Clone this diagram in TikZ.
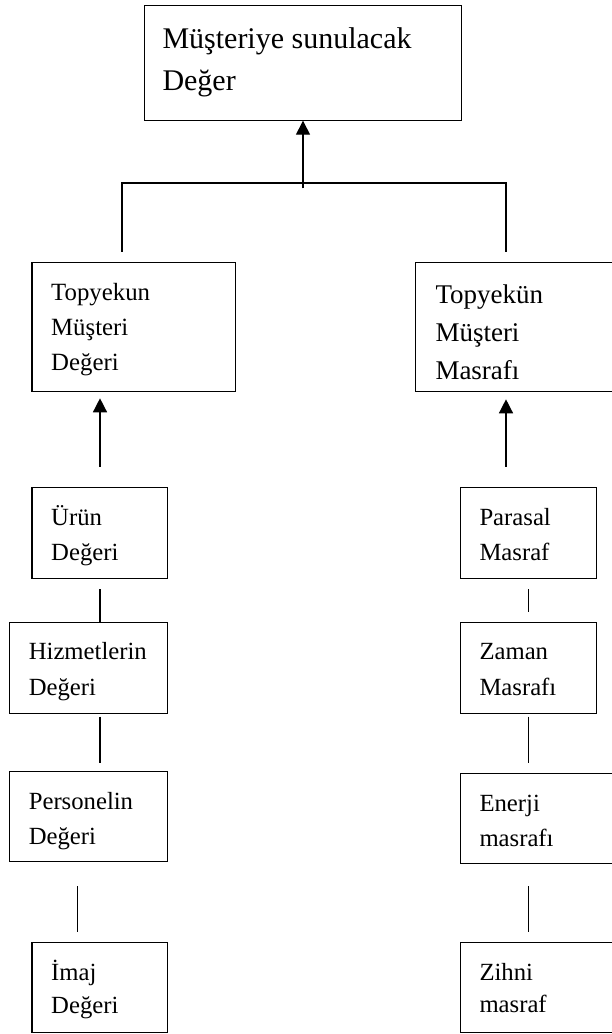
\documentclass[tikz,border=0pt]{standalone}
\usepackage{fontspec}
\setmainfont{Liberation Serif}
\usetikzlibrary{arrows.meta}
\newcommand\mylines[2]{\vtop{\baselineskip=#1pt\relax\lineskiplimit=-1000pt\lineskip=0pt\relax #2}}
\begin{document}
\begin{tikzpicture}[x=1pt,y=-1pt,
  boxnode/.style={draw, line width=1.1pt, inner sep=0pt, outer sep=0pt, anchor=north west},
  txt/.style={anchor=base west, inner sep=0pt, outer sep=0pt},
  small/.style={font=\fontsize{24.7pt}{35pt}\selectfont},
  link/.style={line width=1.3pt},
  arr/.style={line width=1.4pt, -{Triangle[width=14pt,length=14pt]}}]
\path[use as bounding box, fill=white] (0,0) rectangle (611,1034);

% boxes
\node[boxnode, minimum width=317.4pt, minimum height=115.4pt] (top) at (144.3,5.3) {};
\node[boxnode, minimum width=203.7pt, minimum height=129pt] (L1) at (32,262.7) {};
\node[boxnode, minimum width=200pt, minimum height=129pt] (R1) at (415.7,262.7) {};
\node[boxnode, minimum width=135.7pt, minimum height=90.6pt] (L2) at (32,487.7) {};
\node[boxnode, minimum width=158pt, minimum height=90.6pt] (L3) at (9.7,622.7) {};
\node[boxnode, minimum width=158pt, minimum height=90pt] (L4) at (9.7,771.7) {};
\node[boxnode, minimum width=135.7pt, minimum height=90pt] (L5) at (32,942.7) {};
\node[boxnode, minimum width=136.4pt, minimum height=91pt] (R2) at (460.3,487.3) {};
\node[boxnode, minimum width=136.4pt, minimum height=90.6pt] (R3) at (460.3,622.7) {};
\node[boxnode, minimum width=160pt, minimum height=90pt] (R4) at (460.3,773.3) {};
\node[boxnode, minimum width=160pt, minimum height=90pt] (R5) at (460.3,942.7) {};

% texts
\node[txt, font=\fontsize{30pt}{41.7pt}\selectfont] (topT) at (162.5,48.3)
  {\mylines{41.7}{\hbox{Müşteriye sunulacak}\hbox{Değer}}};
\node[txt, font=\fontsize{24.8pt}{34.7pt}\selectfont] (L1T) at (51.2,300.7)
  {\mylines{34.7}{\hbox{Topyekun}\hbox{Müşteri}\hbox{Değeri}}};
\node[txt, font=\fontsize{27pt}{38.3pt}\selectfont] (R1T) at (435.5,303.3)
  {\mylines{38.3}{\hbox{Topyekün}\hbox{Müşteri}\hbox{Masrafı}}};
\node[txt, small] (L2T) at (51.2,525) {\mylines{35}{\hbox{Ürün}\hbox{Değeri}}};
\node[txt, small] (L3T) at (28.8,659.3) {\mylines{35.7}{\hbox{Hizmetlerin}\hbox{Değeri}}};
\node[txt, small] (L4T) at (28.8,809.3) {\mylines{34.7}{\hbox{Personelin}\hbox{Değeri}}};
\node[txt, small] (L5T) at (51.2,980) {\mylines{33.3}{\hbox{İmaj}\hbox{Değeri}}};
\node[txt, small] (R2T) at (479.5,525) {\mylines{35}{\hbox{Parasal}\hbox{Masraf}}};
\node[txt, small] (R3T) at (479.5,659.3) {\mylines{35.7}{\hbox{Zaman}\hbox{Masrafı}}};
\node[txt, small] (R4T) at (479.5,811.7) {\mylines{35}{\hbox{Enerji}\hbox{masrafı}}};
\node[txt, small] (R5T) at (479.5,980) {\mylines{32}{\hbox{Zihni}\hbox{masraf}}};

% connector coordinates
\coordinate (jt) at (303,188.3);
\coordinate (tl) at (122,183);
\coordinate (tr) at (506,183);
\coordinate (bl) at (122,251.7);
\coordinate (br) at (506,251.7);
\coordinate (a1s) at (100,466.7);
\coordinate (a1e) at (100,398.3);
\coordinate (a2s) at (506,466.7);
\coordinate (a2e) at (506,399.3);
\coordinate (c1s) at (100,589);
\coordinate (c2s) at (100,716.7);
\coordinate (c2e) at (100,762.7);
\coordinate (c3s) at (77.7,886);
\coordinate (c3e) at (77.7,931.7);
\coordinate (d1s) at (528.7,589);
\coordinate (d1e) at (528.7,611.7);
\coordinate (d2s) at (528.7,716.7);
\coordinate (d2e) at (528.7,762.7);
\coordinate (d3s) at (528.7,886);
\coordinate (d3e) at (528.7,931.7);

% connectors
\draw[arr] (jt) -- (top.south);
\draw[link] (bl) -- (tl) -- (tr) -- (br);
\draw[arr] (a1s) -- (a1e);
\draw[arr] (a2s) -- (a2e);
\draw[link] (c1s) -- (c1s |- L3.north);
\draw[link] (c2s) -- (c2e);
\draw[link] (c3s) -- (c3e);
\draw[link] (d1s) -- (d1e);
\draw[link] (d2s) -- (d2e);
\draw[link] (d3s) -- (d3e);
\end{tikzpicture}
\end{document}
